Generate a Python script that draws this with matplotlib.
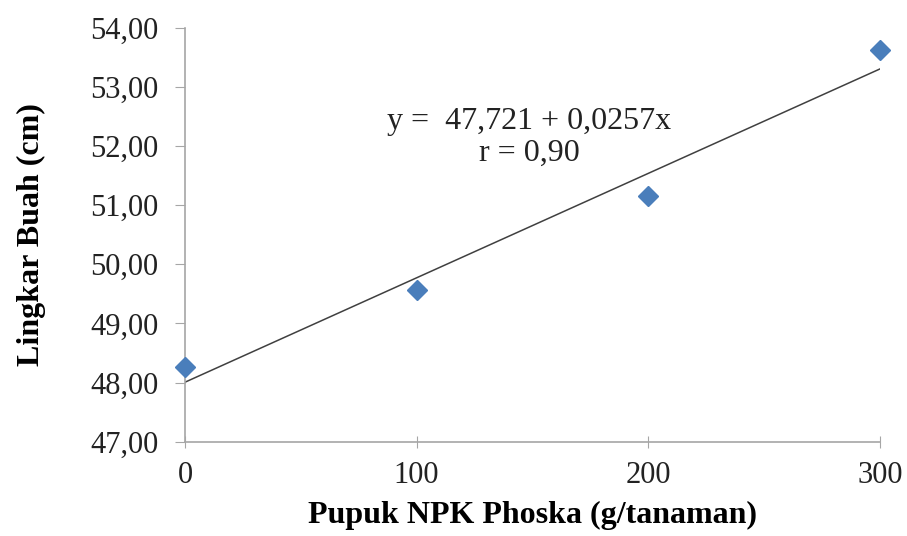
import numpy as np
import matplotlib
matplotlib.use("Agg")
import matplotlib.pyplot as plt

plt.rcParams["font.family"] = ["Liberation Serif", "DejaVu Serif"]

# Data
dosis = [0, 100, 200, 300]               # Pupuk NPK Phoska (g/tanaman)
lingkar = [48.27, 49.57, 51.15, 53.63]   # Lingkar Buah (cm)
y_ticks = [47, 48, 49, 50, 51, 52, 53, 54]
x_ticks = [0, 100, 200, 300]
equation = "y =  47,721 + 0,0257x\nr = 0,90"

# Linear fit for the trend line
slope, intercept = np.polyfit(dosis, lingkar, 1)
x_fit = np.array([min(dosis), max(dosis)])
y_fit = intercept + slope * x_fit

fig = plt.figure(figsize=(9.07, 5.36), dpi=100)
ax = fig.add_axes([0.204, 0.176, 0.766, 0.772])

ax.plot(x_fit, y_fit, color="#404040", linewidth=1.1, zorder=2)
ax.plot(dosis, lingkar, linestyle="none", marker="D", markersize=10.5,
        color="#4a7ebb", markeredgecolor="#4a7ebb", zorder=3, clip_on=False)

ax.set_xlim(0, 300)
ax.set_ylim(47, 54)
ax.set_xticks(x_ticks)
ax.set_yticks(y_ticks)
ax.set_yticklabels([f"{v:.2f}".replace(".", ",") for v in y_ticks])
ax.set_xticklabels([str(v) for v in x_ticks])

for side in ["top", "right"]:
    ax.spines[side].set_visible(False)
for side in ["left", "bottom"]:
    ax.spines[side].set_color("#a6a6a6")
    ax.spines[side].set_linewidth(1.2)

ax.tick_params(axis="y", direction="out", length=7, color="#a6a6a6",
               labelsize=22, pad=12, labelcolor="#222222")
ax.tick_params(axis="x", direction="inout", length=8, color="#a6a6a6",
               labelsize=22, pad=10, labelcolor="#222222")

ax.set_xlabel("Pupuk NPK Phoska (g/tanaman)", fontsize=23, fontweight="bold",
              labelpad=8)
ax.set_ylabel("Lingkar Buah (cm)", fontsize=23, fontweight="bold", labelpad=32)

ax.text(148.5, 52.15, equation, fontsize=23, ha="center", va="center",
        linespacing=1.12, color="#222222")

fig.savefig("out.png", dpi=100)
